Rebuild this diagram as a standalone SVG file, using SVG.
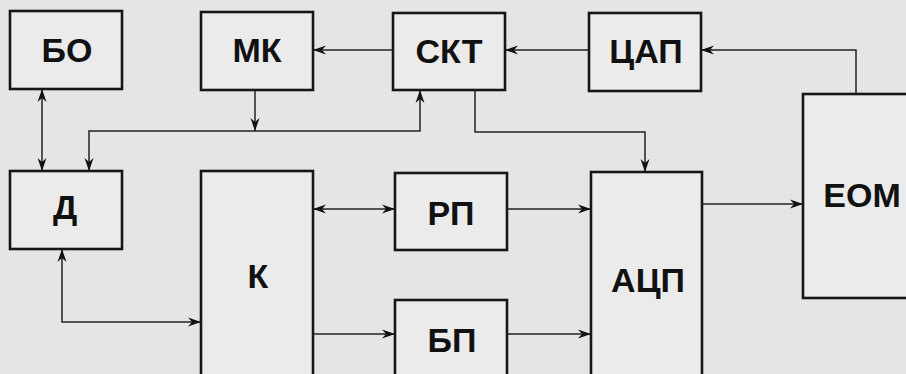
<svg xmlns="http://www.w3.org/2000/svg" width="906" height="374" viewBox="0 0 906 374">
<style>
.box{fill:#ebebeb;stroke:#161616;stroke-width:2.6}
.lbl{font-family:"Liberation Sans",Arial,sans-serif;font-weight:bold;font-size:34px;fill:#111;text-anchor:middle}
.c{fill:none;stroke:#222;stroke-width:1.5}
</style>
<defs>
<marker id="a" markerWidth="14" markerHeight="10" refX="13" refY="5" orient="auto-start-reverse" markerUnits="userSpaceOnUse">
<path d="M0,0.5 L13,5 L0,9.5 L4,5 z" fill="#111"/>
</marker>
</defs>
<rect width="906" height="374" fill="#e5e5e5"/>
<g id="BO"><rect class="box" x="10" y="11" width="112" height="78"/><text class="lbl" x="67" y="62">БО</text></g>
<g id="MK"><rect class="box" x="201" y="12" width="112" height="78"/><text class="lbl" x="257" y="62">МК</text></g>
<g id="SKT"><rect class="box" x="393" y="13" width="112" height="77"/><text class="lbl" x="449" y="63">СКТ</text></g>
<g id="CAP"><rect class="box" x="589" y="13" width="112" height="78"/><text class="lbl" x="646" y="63">ЦАП</text></g>
<g id="EOM"><rect class="box" x="803" y="94" width="120" height="204"/><text class="lbl" x="862" y="207">ЕОМ</text></g>
<g id="D"><rect class="box" x="10" y="171" width="112" height="78"/><text class="lbl" x="65" y="219">Д</text></g>
<g id="K"><rect class="box" x="201" y="171" width="112" height="220"/><text class="lbl" x="258" y="288">К</text></g>
<g id="RP"><rect class="box" x="395" y="173" width="112" height="77"/><text class="lbl" x="451" y="225">РП</text></g>
<g id="BP"><rect class="box" x="395" y="300" width="112" height="90"/><text class="lbl" x="452" y="352">БП</text></g>
<g id="ACP"><rect class="box" x="591" y="172" width="111" height="220"/><text class="lbl" x="648" y="292">АЦП</text></g>
<g id="connectors">
<path class="c" d="M393,50 H313" marker-end="url(#a)"/>
<path class="c" d="M589,50 H505" marker-end="url(#a)"/>
<path class="c" d="M856,94 V50 H701" marker-end="url(#a)"/>
<path class="c" d="M255,90 V131" marker-end="url(#a)"/>
<path class="c" d="M89,171 V131 H420 V90" marker-start="url(#a)" marker-end="url(#a)"/>
<path class="c" d="M42,89 V171" marker-start="url(#a)" marker-end="url(#a)"/>
<path class="c" d="M62,249 V322 H201" marker-start="url(#a)" marker-end="url(#a)"/>
<path class="c" d="M313,209 H395" marker-start="url(#a)" marker-end="url(#a)"/>
<path class="c" d="M313,334 H395" marker-end="url(#a)"/>
<path class="c" d="M507,209 H591" marker-end="url(#a)"/>
<path class="c" d="M507,334 H591" marker-end="url(#a)"/>
<path class="c" d="M702,204 H803" marker-end="url(#a)"/>
<path class="c" d="M475,90 V132 H645 V172" marker-end="url(#a)"/>
</g>
</svg>
